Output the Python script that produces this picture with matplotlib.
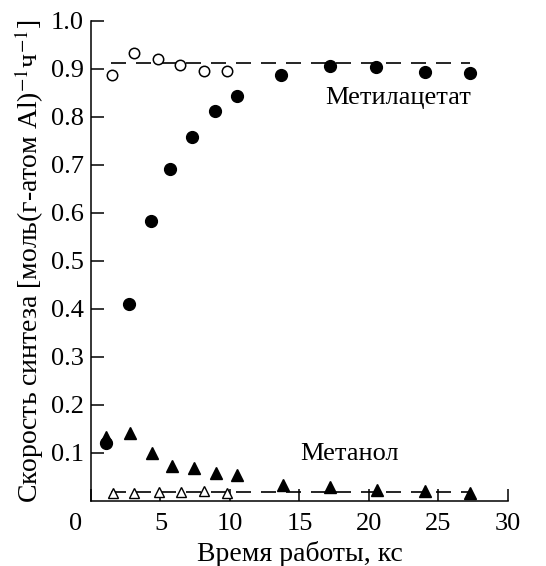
import numpy as np
import matplotlib
matplotlib.use('Agg')
import matplotlib.pyplot as plt
import matplotlib.transforms as mtransforms

# Метилацетат: начальный участок (открытые) и рабочий (закрытые)
ma_open_x = [1.5, 3.1, 4.8, 6.4, 8.1, 9.8]
ma_open_y = [0.888, 0.933, 0.921, 0.908, 0.896, 0.896]
ma_fill_x = [1.1, 2.7, 4.3, 5.7, 7.3, 8.9, 10.5, 13.7, 17.2, 20.5, 24.0, 27.3]
ma_fill_y = [0.121, 0.410, 0.584, 0.692, 0.759, 0.812, 0.843, 0.888, 0.907, 0.903, 0.894, 0.892]

# Метанол
me_open_x = [1.6, 3.1, 4.9, 6.5, 8.1, 9.8]
me_open_y = [0.016, 0.016, 0.018, 0.019, 0.021, 0.016]
me_fill_x = [1.1, 2.8, 4.4, 5.8, 7.4, 9.0, 10.5, 13.8, 17.2, 20.6, 24.0, 27.3]
me_fill_y = [0.134, 0.141, 0.100, 0.073, 0.068, 0.059, 0.053, 0.034, 0.030, 0.023, 0.021, 0.016]

# уровни штриховых линий
ma_level = 0.912
me_level = 0.019
line_x = [1.45, 27.3]

plt.rcParams['font.family'] = ['Liberation Serif', 'DejaVu Serif']
plt.rcParams['mathtext.fontset'] = 'stix'
plt.rcParams['font.size'] = 19
plt.rcParams['axes.linewidth'] = 1.1

fig = plt.figure(figsize=(5.46, 5.66), dpi=100)
ax = fig.add_axes([0.1667, 0.115, 0.7635, 0.848])

ax.plot(line_x, [ma_level, ma_level], color='k', lw=1.2, dashes=(9, 6))
ax.plot(line_x, [me_level, me_level], color='k', lw=1.2, dashes=(9, 6))

ax.plot(ma_open_x, ma_open_y, 'o', ms=7.5, mfc='white', mec='k', mew=1.1, ls='none')
ax.plot(ma_fill_x, ma_fill_y, 'o', ms=8.5, color='k', ls='none')
ax.plot(me_fill_x, me_fill_y, '^', ms=8, color='k', ls='none')
ax.plot(me_open_x, me_open_y, '^', ms=7, mfc='white', mec='k', mew=1.0, ls='none')

ax.text(22.1, 0.84, 'Метилацетат', ha='center', va='center', fontsize=19)
ax.text(18.6, 0.098, 'Метанол', ha='center', va='center', fontsize=19)

ax.set_xlim(0, 30)
ax.set_ylim(0, 1.0)
ax.set_xticks([0, 5, 10, 15, 20, 25, 30])
ax.set_yticks([0.1, 0.2, 0.3, 0.4, 0.5, 0.6, 0.7, 0.8, 0.9, 1.0])
ax.set_yticklabels(['0.1', '0.2', '0.3', '0.4', '0.5', '0.6', '0.7', '0.8', '0.9', '1.0'])
ax.tick_params(axis='both', direction='in', length=9, width=1.1, labelsize=19)
ax.tick_params(axis='x', pad=9)
ax.tick_params(axis='y', pad=5)
for side in ['top', 'right']:
    ax.spines[side].set_visible(False)

# "0" сдвинут влево, как в оригинале
off = mtransforms.ScaledTranslation(-15 / 100, 0, fig.dpi_scale_trans)
lab0 = ax.get_xticklabels()[0]
lab0.set_transform(lab0.get_transform() + off)

ax.set_xlabel('Время работы, кс', fontsize=20, labelpad=4)
ax.set_ylabel('Скорость синтеза [моль(г-атом Al)$^{-1}$ч$^{-1}$]', fontsize=20, labelpad=4)

fig.savefig('out.png', dpi=100)
